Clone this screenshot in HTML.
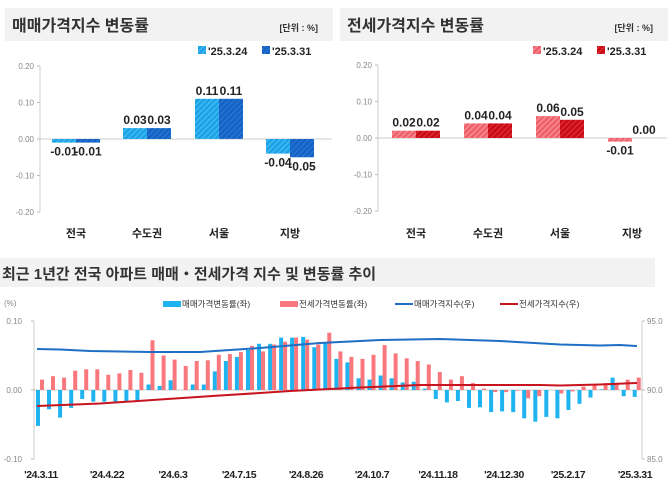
<!DOCTYPE html>
<html><head><meta charset="utf-8"><style>
html,body{margin:0;padding:0;background:#fff;width:670px;height:488px;overflow:hidden}
svg{display:block;font-family:"Liberation Sans","Noto Sans CJK KR",sans-serif}
</style></head><body>
<svg id="s" width="670" height="488" viewBox="0 0 670 488" xmlns="http://www.w3.org/2000/svg">
<defs>
<pattern id="hb" width="4" height="4" patternUnits="userSpaceOnUse" patternTransform="rotate(45)"><rect width="4" height="4" fill="#1aa3e8"/><rect width="1.2" height="4" fill="#4bbdf0"/></pattern>
<pattern id="hd" width="4" height="4" patternUnits="userSpaceOnUse" patternTransform="rotate(45)"><rect width="4" height="4" fill="#1462c4"/><rect width="1.2" height="4" fill="#2a78d4"/></pattern>
<pattern id="hr" width="4" height="4" patternUnits="userSpaceOnUse" patternTransform="rotate(45)"><rect width="4" height="4" fill="#f0606a"/><rect width="1.2" height="4" fill="#f7959a"/></pattern>
<pattern id="hdr" width="4" height="4" patternUnits="userSpaceOnUse" patternTransform="rotate(45)"><rect width="4" height="4" fill="#cc0a14"/><rect width="1.2" height="4" fill="#d8323a"/></pattern>
</defs>
</svg>
<script>
var s=document.getElementById('s'),h='';
function R(x,y,w,hh,f){x=+x;y=+y;hh=+hh;if(hh<0){y+=hh;hh=-hh;}h+='<rect x="'+x.toFixed(1)+'" y="'+y.toFixed(1)+'" width="'+w+'" height="'+hh.toFixed(1)+'" fill="'+f+'"/>';}
function T(x,y,t,sz,c,a,w,ls){h+='<text x="'+x+'" y="'+y+'" font-size="'+sz+'" fill="'+c+'" text-anchor="'+(a||'start')+'" font-weight="'+(w||'normal')+'"'+(ls?' letter-spacing="'+ls+'"':'')+'>'+t+'</text>';}
function L(x1,y1,x2,y2,c,sw){h+='<line x1="'+x1+'" y1="'+y1+'" x2="'+x2+'" y2="'+y2+'" stroke="'+c+'" stroke-width="'+(sw||1)+'"/>';}
function panel(ox,title,c1,c2,d1,d2,zero,ax,centers){
 R(ox+5,8,328,33,'#f2f2f2');
 T(ox+12,31,title,16,'#333','start','bold');
 T(ox+318,31,'[단위 : %]',9,'#333','end','bold');
 R(ox+198,46,8,8,c1);T(ox+208,55,"'25.3.24",11,'#222','start','bold');
 R(ox+262,46,8,8,c2);T(ox+272,55,"'25.3.31",11,'#222','start','bold');
 var labs=['0.20','0.10','0.00','-0.10','-0.20'];
 for(var i=0;i<5;i++){var y=zero-73+i*36.5;T(ax-6,y+3,labs[i],8,'#888','end');L(ax-3,y,ax,y,'#bbb');}
 L(ax,zero-73,ax,zero+73,'#ccc');L(ax,zero,ox+332,zero,'#ccc');
 var nm=['전국','수도권','서울','지방'];
 for(var i=0;i<4;i++){var cx=centers[i];
  var v1=d1[i],v2=d2[i];
  R(cx-24,zero,24,-v1*365,c1);R(cx,zero,24,-v2*365,c2);
  var y1=v1>=0?zero-v1*365-4:zero-v1*365+13,y2=v2>=0?zero-v2*365-4:zero-v2*365+13;
  if(v2==0)y2=zero-4;
  T(cx-12,y1,(v1<0?'-':'')+Math.abs(v1).toFixed(2),12,'#222','middle','bold');
  T(cx+12,y2,(v2<0?'-':'')+Math.abs(v2).toFixed(2),12,'#222','middle','bold');
  T(cx,237,nm[i],11,'#222','middle','bold');
 }
}
panel(0,'매매가격지수 변동률','url(#hb)','url(#hd)',[-0.01,0.03,0.11,-0.04],[-0.01,0.03,0.11,-0.05],139,40,[76,147,219,290]);
panel(335,'전세가격지수 변동률','url(#hr)','url(#hdr)',[0.02,0.04,0.06,-0.01],[0.02,0.04,0.05,0.00],138,378,[416,488,560,632]);
R(0,258,655,29,'#f2f2f2');
T(2,279,'최근 1년간 전국 아파트 매매・전세가격 지수 및 변동률 추이',15,'#333','start','bold');
T(4,306,'(%)',8,'#888');
R(163,301,18,6,'#1fb4f0');T(182,307,'매매가격변동률(좌)',8.5,'#333');
R(280,301,18,6,'#f8787e');T(299,307,'전세가격변동률(좌)',8.5,'#333');
L(395,304,413,304,'#1f6fc4',2);T(414,307,'매매가격지수(우)',8.5,'#333');
L(500,304,518,304,'#c8141e',2);T(519,307,'전세가격지수(우)',8.5,'#333');
var Z=390;
[['0.10',321],['0.00',390],['-0.10',459]].forEach(function(a){T(22,a[1]+3,a[0],8,'#888','end');L(31,a[1],34,a[1],'#bbb');});
[['95.0',321],['90.0',390],['85.0',459]].forEach(function(a){T(647,a[1]+3,a[0],8,'#888','start');L(642,a[1],645,a[1],'#bbb');});
L(34,321,34,459,'#ccc');L(642,321,642,459,'#ccc');L(34,Z,642,Z,'#ccc');
var B=[-0.052,-0.028,-0.040,-0.026,-0.013,-0.017,-0.017,-0.019,-0.018,-0.017,0.008,0.006,0.014,0.000,0.008,0.008,0.027,0.042,0.048,0.058,0.067,0.067,0.076,0.076,0.077,0.062,0.068,0.045,0.040,0.017,0.015,0.021,0.017,0.011,0.012,0.002,-0.013,-0.018,-0.016,-0.026,-0.025,-0.032,-0.031,-0.032,-0.041,-0.046,-0.039,-0.041,-0.029,-0.020,-0.011,0.001,0.018,-0.009,-0.010];
var Rd=[0.015,0.020,0.018,0.028,0.030,0.030,0.022,0.024,0.029,0.025,0.072,0.050,0.044,0.035,0.042,0.043,0.051,0.052,0.055,0.064,0.056,0.066,0.070,0.076,0.073,0.066,0.083,0.056,0.048,0.045,0.051,0.065,0.053,0.046,0.042,0.037,0.026,0.015,0.020,0.010,0.002,-0.003,-0.003,-0.001,-0.012,-0.009,0.000,-0.005,-0.002,0.005,0.008,0.010,0.008,0.015,0.018];
for(var i=0;i<55;i++){var x=36+i*11.05;R(x,Z,4,-B[i]*690,'#1fb4f0');R(x+4,Z,4,-Rd[i]*690,'#f8787e');}
function P(pts,c){var d='M'+pts[0];for(var i=1;i<pts.length;i++)d+=' L'+pts[i];h+='<path d="'+d+'" fill="none" stroke="'+c+'" stroke-width="2"/>';}
P([[37,349],[60,349.5],[90,351],[150,352],[200,352],[230,350],[260,348],[320,343],[380,340],[440,339],[500,341],[560,344.5],[600,345.5],[620,345],[637,346]],'#1f6fc4');
P([[37,406],[100,403.5],[160,399.5],[220,395.5],[260,393],[290,391],[360,387.5],[420,385],[480,385],[540,385],[560,385.5],[600,384.5],[637,383]],'#c8141e');
[["'24.3.11",41],["'24.4.22",107],["'24.6.3",173],["'24.7.15",239],["'24.8.26",306],["'24.10.7",372],["'24.11.18",438],["'24.12.30",504],["'25.2.17",568],["'25.3.31",635]].forEach(function(a){T(a[1],478,a[0],10.5,'#222','middle','bold','-0.4');});
s.insertAdjacentHTML('beforeend',h);
</script>
</body></html>
